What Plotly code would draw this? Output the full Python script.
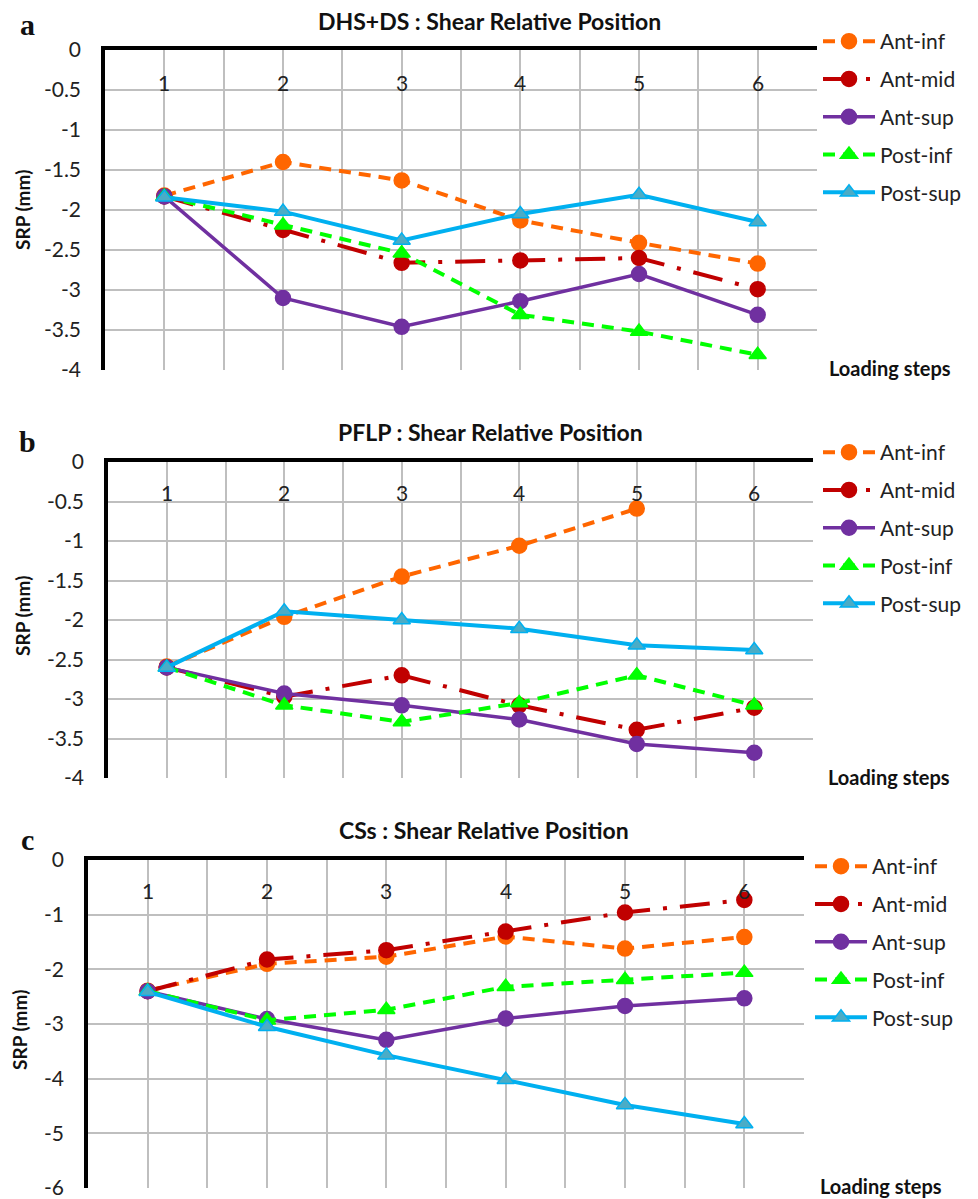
import plotly.graph_objects as go

# ---------------- data ----------------
steps = [1, 2, 3, 4, 5, 6]
step_labels = ["1", "2", "3", "4", "5", "6"]
series_names = ["Ant-inf", "Ant-mid", "Ant-sup", "Post-inf", "Post-sup"]

panel_titles = ["DHS+DS : Shear Relative Position",
                "PFLP : Shear Relative Position",
                "CSs : Shear Relative Position"]
panel_letters = ["a", "b", "c"]

# Panel a (DHS+DS)
a_ant_inf = [-1.82, -1.40, -1.63, -2.13, -2.41, -2.67]
a_ant_mid = [-1.83, -2.25, -2.66, -2.63, -2.60, -2.99]
a_ant_sup = [-1.83, -3.10, -3.46, -3.14, -2.80, -3.31]
a_post_inf = [-1.83, -2.19, -2.54, -3.31, -3.52, -3.81]
a_post_sup = [-1.84, -2.02, -2.38, -2.05, -1.81, -2.15]

# Panel b (PFLP)
b_ant_inf = [-2.59, -1.96, -1.45, -1.06, -0.59, None]
b_ant_mid = [-2.60, -2.97, -2.70, -3.08, -3.39, -3.11]
b_ant_sup = [-2.60, -2.93, -3.08, -3.26, -3.57, -3.68]
b_post_inf = [-2.60, -3.08, -3.29, -3.05, -2.70, -3.08]
b_post_sup = [-2.60, -1.89, -2.00, -2.11, -2.32, -2.38]

# Panel c (CSs)
c_ant_inf = [-2.39, -1.90, -1.77, -1.40, -1.62, -1.41]
c_ant_mid = [-2.40, -1.82, -1.65, -1.31, -0.96, -0.73]
c_ant_sup = [-2.40, -2.91, -3.29, -2.90, -2.67, -2.53]
c_post_inf = [-2.40, -2.93, -2.74, -2.32, -2.19, -2.06]
c_post_sup = [-2.41, -3.05, -3.57, -4.02, -4.48, -4.83]

panel_data = [
    [a_ant_inf, a_ant_mid, a_ant_sup, a_post_inf, a_post_sup],
    [b_ant_inf, b_ant_mid, b_ant_sup, b_post_inf, b_post_sup],
    [c_ant_inf, c_ant_mid, c_ant_sup, c_post_inf, c_post_sup],
]

yticks_ab = [0, -0.5, -1, -1.5, -2, -2.5, -3, -3.5, -4]
ylabels_ab = ["0", "-0.5", "-1", "-1.5", "-2", "-2.5", "-3", "-3.5", "-4"]
yticks_c = [0, -1, -2, -3, -4, -5, -6]
ylabels_c = ["0", "-1", "-2", "-3", "-4", "-5", "-6"]

# ---------------- styles / layout geometry ----------------
OFF = 8                      # default page body margin
W, H = 978 - OFF, 1199 - OFF
FONT = "Lato"

styles = [
    dict(color="#FF6600", dash="12px,8px", width=4, symbol="circle", mfill="#FF6600", mline="#FF6600", size=15),
    dict(color="#C00000", dash="30px,13px,4px,13px", width=4, symbol="circle", mfill="#C00000", mline="#C00000", size=15),
    dict(color="#7030A0", dash="solid", width=3.5, symbol="circle", mfill="#7030A0", mline="#7030A0", size=15),
    dict(color="#00FF00", dash="12px,8px", width=4, symbol="triangle-up", mfill="#00FF00", mline="#00FF00", size=15),
    dict(color="#00B0F0", dash="solid", width=4, symbol="triangle-up", mfill="#4BACC6", mline="#00B0F0", size=15),
]

# plot boxes in page pixels: (left, right, top, bottom)
boxes = [(105, 817, 50, 370), (108, 813, 462, 778), (88, 804, 860, 1188)]
yranges = [[-4, 0], [-4, 0], [-6, 0]]
ytick_sets = [(yticks_ab, ylabels_ab), (yticks_ab, ylabels_ab), (yticks_c, ylabels_c)]
xlabel_y = [82, 492, 890]
title_pos = [(489, 21), (490, 432), (484, 830)]
letter_pos = [(27, 25), (27, 441), (27, 839)]
loading_pos = [(890, 368), (889, 777), (881, 1186)]
srp_pos = [(22, 210), (22, 616), (19, 1030)]
legend_pos = [(818, 21), (818, 432), (810, 846)]


def px(x):
    return (x - OFF) / W


def py(y):
    return 1 - (y - OFF) / H


fig = go.Figure()
GRID = "#BFBFBF"
annotations = []
for p in range(3):
    idx = "" if p == 0 else str(p + 1)
    xname, yname = "x" + idx, "y" + idx
    legname = "legend" + idx
    for s, name in enumerate(series_names):
        st = styles[s]
        fig.add_trace(go.Scatter(
            x=steps, y=panel_data[p][s], name=name, mode="lines+markers",
            xaxis=xname, yaxis=yname, legend=legname,
            legendgroup=f"{p}-{name}",
            line=dict(color=st["color"], width=st["width"], dash=st["dash"]),
            marker=dict(symbol=st["symbol"], size=st["size"], color=st["mfill"],
                        line=dict(color=st["mline"], width=1.5)),
            connectgaps=False,
        ))
    l, r, t, b = boxes[p]
    yt, yl = ytick_sets[p]
    fig.update_layout(**{
        "xaxis" + idx: dict(
            domain=[px(l), px(r)], anchor=yname, side="top", range=[0.5, 6.5],
            tickvals=steps, showticklabels=False, ticks="",
            showgrid=True, gridcolor=GRID, gridwidth=1.7,
            minor=dict(dtick=0.5, tick0=0.5, showgrid=True, gridcolor=GRID, gridwidth=1.7),
            showline=True, linecolor="black", linewidth=3.5, zeroline=False,
            automargin=False, fixedrange=True,
        ),
        "yaxis" + idx: dict(
            domain=[py(b), py(t)], anchor=xname, range=yranges[p],
            tickvals=yt, ticktext=yl, ticklabeloverflow="allow",
            ticks="outside", ticklen=16, tickcolor="rgba(0,0,0,0)",
            tickfont=dict(family=FONT, size=21, color="#222"),
            showgrid=True, gridcolor=GRID, gridwidth=1.7,
            showline=True, linecolor="black", linewidth=3.5, zeroline=False,
            automargin=False, fixedrange=True,
        ),
        legname: dict(
            x=px(legend_pos[p][0]), y=py(legend_pos[p][1]), xanchor="left", yanchor="top",
            font=dict(family=FONT, size=21, color="#222"), bgcolor="rgba(0,0,0,0)",
            tracegroupgap=7.5, itemwidth=52, traceorder="grouped",
        ),
    })
    # category labels drawn just under the top axis line (Excel-style axis crossing at 0)
    for xv, lab in zip(steps, step_labels):
        annotations.append(dict(text=lab, x=xv, y=py(xlabel_y[p]), xref=xname, yref="paper",
                                showarrow=False, xanchor="center", yanchor="middle",
                                font=dict(family=FONT, size=21, color="#222")))
    annotations.append(dict(text="<b>" + panel_titles[p] + "</b>", x=px(title_pos[p][0]), y=py(title_pos[p][1]),
                            xref="paper", yref="paper", showarrow=False, xanchor="center", yanchor="middle",
                            font=dict(family=FONT, size=23, color="#111")))
    annotations.append(dict(text="<b>" + panel_letters[p] + "</b>", x=px(letter_pos[p][0]), y=py(letter_pos[p][1]),
                            xref="paper", yref="paper", showarrow=False, xanchor="center", yanchor="middle",
                            font=dict(family="Liberation Serif", size=30, color="#111")))
    annotations.append(dict(text="<b>Loading steps</b>", x=px(loading_pos[p][0]), y=py(loading_pos[p][1]),
                            xref="paper", yref="paper", showarrow=False, xanchor="center", yanchor="middle",
                            font=dict(family=FONT, size=20, color="#111")))
    annotations.append(dict(text="<b>SRP (mm)</b>", x=px(srp_pos[p][0]), y=py(srp_pos[p][1]),
                            xref="paper", yref="paper", showarrow=False, xanchor="center", yanchor="middle",
                            textangle=-90, font=dict(family=FONT, size=19, color="#111")))

fig.update_layout(
    width=W, height=H, margin=dict(l=0, r=0, t=0, b=0, autoexpand=False),
    paper_bgcolor="white", plot_bgcolor="white", showlegend=True,
    annotations=annotations,
)

fig.write_html("out.html")
